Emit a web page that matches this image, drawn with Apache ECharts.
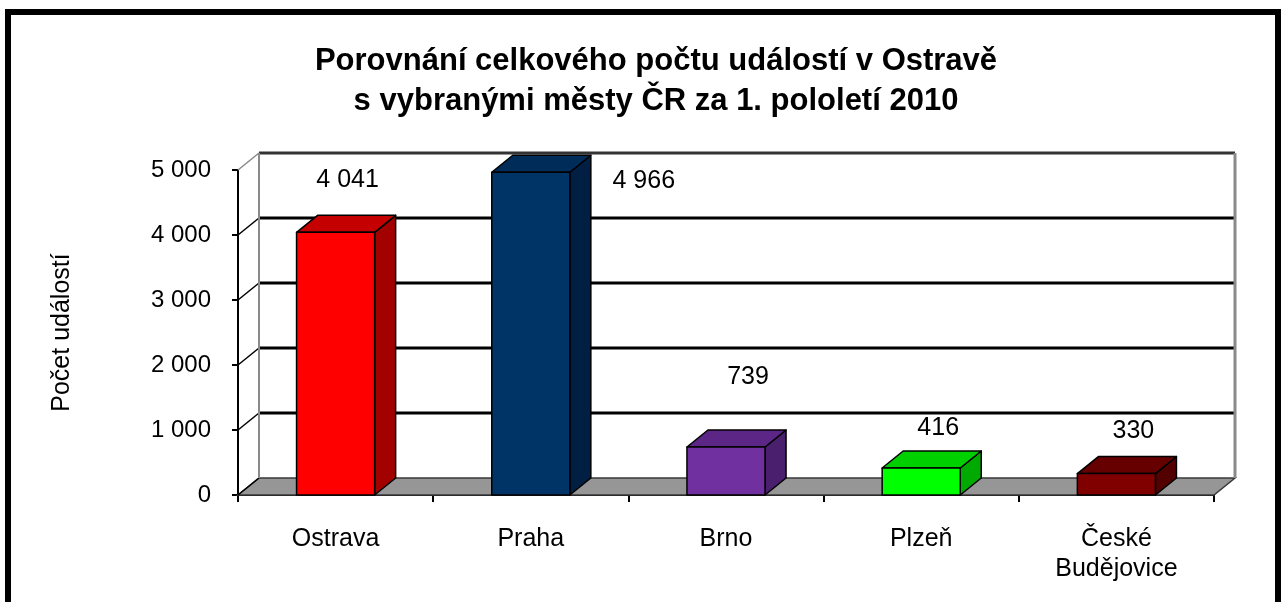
<!DOCTYPE html>
<html>
<head>
<meta charset="utf-8">
<script src="https://cdn.jsdelivr.net/npm/echarts@6/dist/echarts.min.js"></script>
<style>
  html, body { margin: 0; padding: 0; background: #fff; }
  #main { width: 1284px; height: 602px; }
</style>
</head>
<body>
<div id="main"></div>
<script>
// data
const categories = ['Ostrava', 'Praha', 'Brno', 'Plzeň', 'České\nBudějovice'];
const values = [4041, 4966, 739, 416, 330];
const yTicks = [0, 1000, 2000, 3000, 4000, 5000];
const titleLines = ['Porovnání celkového počtu událostí v Ostravě', 's vybranými městy ČR za 1. pololetí 2010'];
const yName = 'Počet událostí';

// styling
const FONT = 'Liberation Sans, Arial, sans-serif';
const DX = 21, DY = -17; // depth of the fake 3d
const faceColors = [
  { front: '#FF0000', top: '#C40000', side: '#A30000' },
  { front: '#003366', top: '#002C5A', side: '#001F42' },
  { front: '#7030A0', top: '#5C2686', side: '#4A1F6E' },
  { front: '#00FF00', top: '#00D000', side: '#00AA00' },
  { front: '#800000', top: '#660000', side: '#520000' },
];
// where excel dropped the value labels, relative to top of each bar
const labelShift = [[12, -52], [113, 9], [22, -70], [17, -40], [17, -42]];

function fmt(v) {
  return String(v).replace(/\B(?=(\d{3})+(?!\d))/g, ' ');
}

const chartDom = document.getElementById('main');
const myChart = echarts.init(chartDom, null, { renderer: 'canvas' });

function renderWalls(params, api) {
  const cs = params.coordSys;
  const v = api.value(1);
  const y = api.coord([0, v])[1];
  const y0 = api.coord([0, 0])[1];
  const x0 = cs.x, x1 = cs.x + cs.width;
  const isTop = v === yTicks[yTicks.length - 1];
  const children = [];
  if (v === 0) {
    children.push({
      type: 'polygon',
      shape: { points: [[x0, y], [x1, y], [x1 + DX, y + DY], [x0 + DX, y + DY]] },
      style: { fill: '#969696', stroke: '#3a3a3a', lineWidth: 1.5 },
    });
  } else {
    children.push({
      type: 'line',
      shape: { x1: x0 + DX, y1: y + DY, x2: x1 + DX, y2: y + DY },
      style: { stroke: isTop ? '#333' : '#000', lineWidth: 3 },
    });
  }
  children.push({
    type: 'line',
    shape: { x1: x0, y1: y, x2: x0 + DX, y2: y + DY },
    style: { stroke: isTop ? '#888' : '#000', lineWidth: 1.5 },
  });
  if (isTop) {
    children.push({
      type: 'line',
      shape: { x1: x0 + DX, y1: y0 + DY, x2: x0 + DX, y2: y + DY },
      style: { stroke: '#8a8a8a', lineWidth: 2 },
    });
    children.push({
      type: 'line',
      shape: { x1: x1 + DX, y1: y0 + DY, x2: x1 + DX, y2: y + DY },
      style: { stroke: '#8a8a8a', lineWidth: 3 },
    });
  }
  return { type: 'group', children: children };
}

function renderBar(params, api) {
  const i = api.value(0);
  const v = api.value(1);
  const top = api.coord([i, v]);
  const base = api.coord([i, 0]);
  const w = api.size([1, 0])[0] * 0.4;
  const xl = top[0] - w / 2, xr = top[0] + w / 2;
  const c = faceColors[i];
  const edge = { stroke: '#000', lineWidth: 1.5, lineJoin: 'round' };
  const sh = labelShift[i];
  return {
    type: 'group',
    children: [
      {
        type: 'polygon',
        shape: { points: [[xr, top[1]], [xr + DX, top[1] + DY], [xr + DX, base[1] + DY], [xr, base[1]]] },
        style: Object.assign({ fill: c.side }, edge),
      },
      {
        type: 'polygon',
        shape: { points: [[xl, top[1]], [xr, top[1]], [xr + DX, top[1] + DY], [xl + DX, top[1] + DY]] },
        style: Object.assign({ fill: c.top }, edge),
      },
      {
        type: 'rect',
        shape: { x: xl, y: top[1], width: w, height: base[1] - top[1] },
        style: Object.assign({ fill: c.front }, edge),
      },
      {
        type: 'text',
        x: top[0] + sh[0],
        y: top[1] + sh[1],
        style: {
          text: fmt(v),
          fill: '#000',
          font: '25px ' + FONT,
          align: 'center',
          verticalAlign: 'middle',
        },
      },
    ],
  };
}

const option = {
  animation: false,
  backgroundColor: '#fff',
  textStyle: { fontFamily: FONT },
  title: {
    text: titleLines.join('\n'),
    left: 651,
    textAlign: 'center',
    top: 36,
    textStyle: { fontSize: 31, fontWeight: 'bold', color: '#000', lineHeight: 40, fontFamily: FONT },
  },
  graphic: [
    {
      type: 'rect',
      shape: { x: 8, y: 12, width: 1270, height: 700 },
      style: { fill: 'none', stroke: '#000', lineWidth: 6 },
      silent: true,
    },
  ],
  grid: {
    left: 238,
    right: 70,
    top: 170,
    bottom: 107,
    outerBoundsMode: 'none',
  },
  xAxis: {
    type: 'category',
    data: categories,
    axisLine: { show: true, lineStyle: { color: '#000', width: 2 } },
    axisTick: { show: true, interval: 0, length: 7, lineStyle: { color: '#000', width: 2 } },
    axisLabel: { color: '#000', fontSize: 25, fontFamily: FONT, margin: 29, lineHeight: 30, interval: 0 },
    splitLine: { show: false },
  },
  yAxis: {
    type: 'value',
    min: 0,
    max: 5000,
    interval: 1000,
    name: yName,
    nameLocation: 'middle',
    nameRotate: 90,
    nameGap: 163,
    nameTextStyle: { color: '#000', fontSize: 25, fontFamily: FONT },
    axisLine: { show: true, lineStyle: { color: '#000', width: 2 } },
    axisTick: { show: true, length: 6, lineStyle: { color: '#000', width: 2 } },
    axisLabel: { color: '#000', fontSize: 24, fontFamily: FONT, margin: 27, formatter: fmt },
    splitLine: { show: false },
  },
  series: [
    {
      type: 'custom',
      name: 'walls',
      z: 1,
      silent: true,
      renderItem: renderWalls,
      data: yTicks.map((t) => [0, t]),
    },
    {
      type: 'custom',
      name: 'bars',
      z: 3,
      renderItem: renderBar,
      data: values.map((v, i) => [i, v]),
    },
  ],
};

option && myChart.setOption(option);
</script>
</body>
</html>
